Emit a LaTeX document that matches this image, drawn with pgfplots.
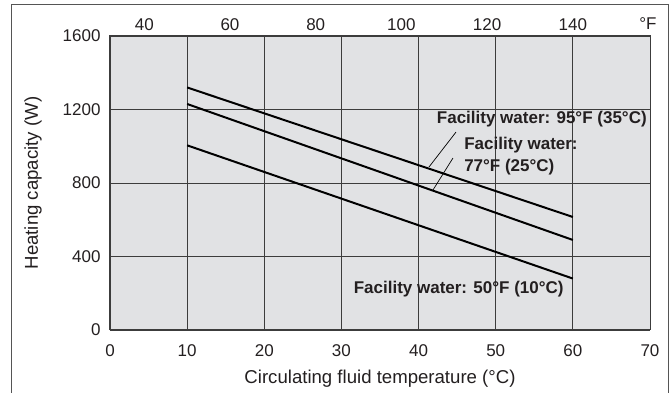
\documentclass[border=0pt]{standalone}
\usepackage{fontspec}
\setmainfont{Liberation Sans}
\usepackage{pgfplots}
\pgfplotsset{compat=1.18}
\definecolor{bg}{HTML}{E1E2E4}
\definecolor{grd}{HTML}{3C3C3C}
\definecolor{txt}{HTML}{231F20}
\definecolor{frm}{HTML}{555555}
\newcommand{\fs}{\fontsize{17}{22}\selectfont}
\newcommand{\fl}{\fontsize{18.6}{22}\selectfont}
\begin{document}
\begin{tikzpicture}
\path[use as bounding box] (-110pt,-63pt) rectangle (562pt,330pt);
\draw[line width=0.9pt, color=frm] (-99pt,-70pt) -- (-99pt,326pt) -- (558pt,326pt) -- (558pt,-70pt);
\begin{axis}[
  at={(0pt,0pt)}, anchor=south west,
  scale only axis, width=540pt, height=294pt,
  xmin=0, xmax=70, ymin=0, ymax=1600,
  xtick={0,10,...,70}, ytick={0,400,...,1600},
  grid=major, major grid style={grd, line width=0.9pt},
  axis background/.style={fill=bg},
  axis line style={grd, line width=1pt},
  tick style={draw=none},
  tick label style={font=\fs, text=txt},
  /pgf/number format/assume math mode=true,
  /pgf/number format/1000 sep={},
  xticklabel style={anchor=north, yshift=-11pt},
  yticklabel style={anchor=east, xshift=-6pt},
  every axis x label/.style={at={(axis description cs:0.5,0)}, anchor=center, yshift=-49pt, font=\fl, text=txt},
  every axis y label/.style={at={(axis description cs:0,0.5)}, rotate=90, anchor=center, yshift=77pt, font=\fl, text=txt},
  xlabel={Circulating fluid temperature (°C)},
  ylabel={Heating capacity (W)},
  clip=false,
]
\addplot[black, line width=2pt] coordinates {(10,1320) (60,615)};
\addplot[black, line width=2pt] coordinates {(10,1230) (60,490)};
\addplot[black, line width=2pt] coordinates {(10,1005) (60,280)};
\draw[black, line width=0.7pt] (axis cs:44.85,1077) -- (axis cs:41.35,887);
\draw[black, line width=0.7pt] (axis cs:44.46,936) -- (axis cs:41.87,762);
\node[anchor=east, font=\fs\bfseries, text=txt, inner sep=0pt] at (axis cs:69.6,1150) {Facility water: 95°F (35°C)};
\node[anchor=west, align=left, font=\fs\bfseries, text=txt, inner sep=0pt] at (axis cs:45.9,947) {Facility water:\\77°F (25°C)};
\node[anchor=center, font=\fs\bfseries, text=txt, inner sep=0pt] at (axis cs:45.2,223) {Facility water: 50°F (10°C)};
\end{axis}
\begin{axis}[
  at={(0pt,0pt)}, anchor=south west,
  scale only axis, width=540pt, height=294pt,
  xmin=32, xmax=158, ymin=0, ymax=1600,
  axis x line*=top, axis y line=none,
  axis line style={draw=none},
  xtick={40,60,...,140},
  tick style={draw=none},
  tick label style={font=\fs, text=txt},
  /pgf/number format/assume math mode=true,
  xticklabel style={anchor=south, yshift=2pt},
]
\end{axis}
\node[font=\fs, text=txt] at (538pt,306pt) {°F};
\end{tikzpicture}
\end{document}
